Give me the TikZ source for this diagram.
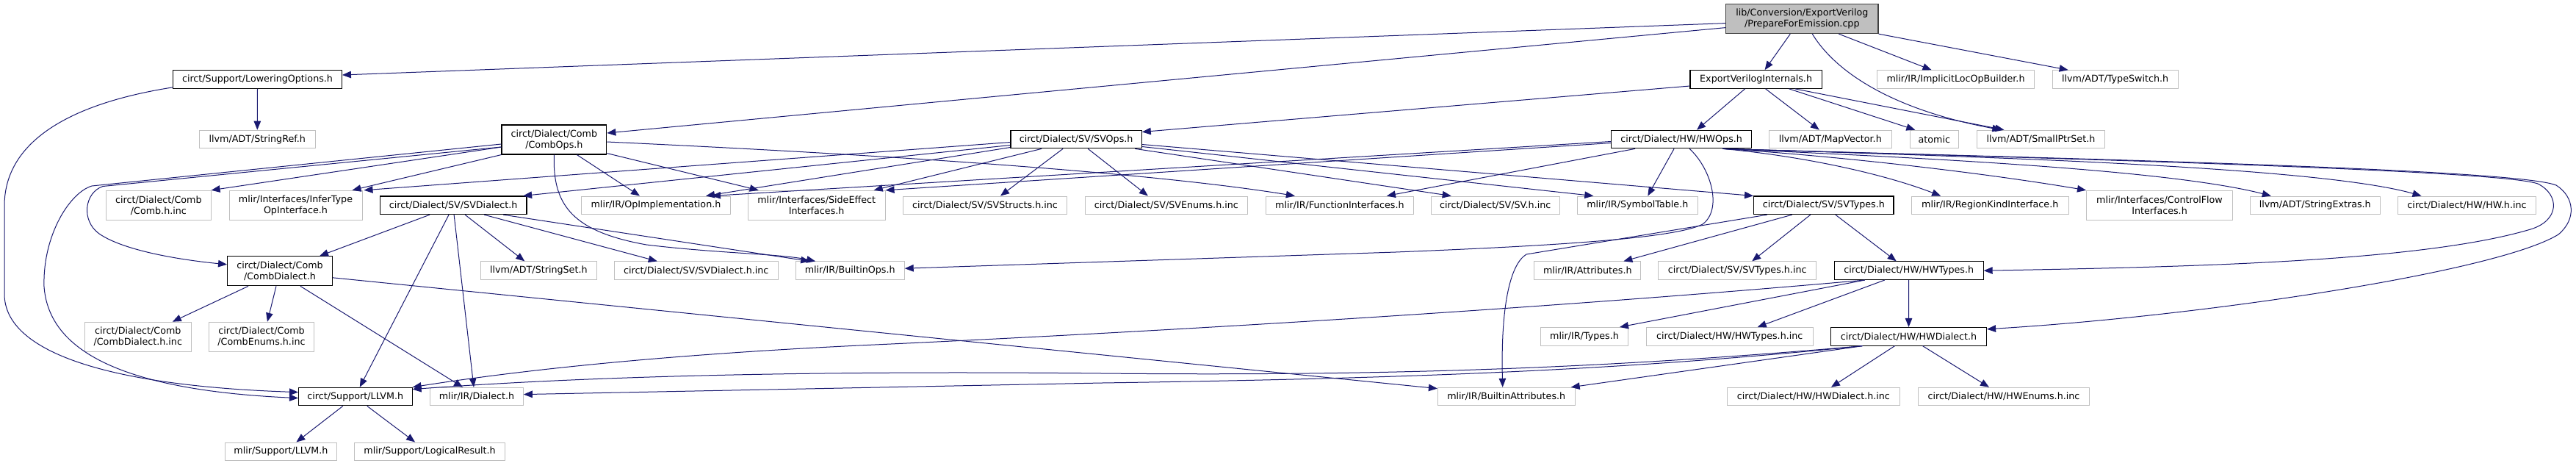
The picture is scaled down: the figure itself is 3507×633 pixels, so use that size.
\documentclass[tikz,border=0pt]{standalone}
\usepackage{fontspec}
\setmainfont{DejaVu Sans}
\usetikzlibrary{arrows.meta}

\definecolor{edgeblue}{HTML}{191970}
\definecolor{leafgray}{HTML}{BFBFBF}

\tikzset{
  boxbase/.style={rectangle, inner xsep=2pt, inner ysep=0pt, minimum height=24.6pt,
    font=\fontsize{12.7}{15}\selectfont, align=center},
  incbox/.style={boxbase, draw=black, line width=1.1pt},
  leafbox/.style={boxbase, draw=leafgray, line width=1pt},
  srcbox/.style={boxbase, draw=black!75, fill=leafgray, line width=1.1pt},
  twoline/.style={minimum height=40pt},
  incl/.style={draw=edgeblue, line width=1pt, -{Triangle[length=12pt, width=9.5pt]}},
}

\begin{document}
\begin{tikzpicture}[x=1pt, y=-1pt]
    \useasboundingbox (0,0) rectangle (3507,633);

    % Fichiers
    \node[srcbox, twoline, minimum width=207.4pt] (main) at (2453.3,25.6) {lib/Conversion/ExportVerilog\\/PrepareForEmission.cpp};

    \node[incbox, minimum width=229.7pt] (lowopt) at (350.5,108) {circt/Support/LoweringOptions.h};
    \node[incbox, minimum width=179.3pt] (evint) at (2390.6,108) {ExportVerilogInternals.h};
    \node[leafbox, minimum width=214.3pt] (implicitloc) at (2662.5,108) {mlir/IR/ImplicitLocOpBuilder.h};
    \node[leafbox, minimum width=170.8pt] (typeswitch) at (2879.6,108) {llvm/ADT/TypeSwitch.h};

    \node[leafbox, minimum width=157.4pt] (stringref) at (350.3,189.5) {llvm/ADT/StringRef.h};
    \node[incbox, twoline, minimum width=142.8pt] (combops) at (754.4,190) {circt/Dialect/Comb\\/CombOps.h};
    \node[incbox, minimum width=178.3pt] (svops) at (1465.1,189.5) {circt/Dialect/SV/SVOps.h};
    \node[incbox, minimum width=190.6pt] (hwops) at (2289.1,189.5) {circt/Dialect/HW/HWOps.h};
    \node[leafbox, minimum width=166.9pt] (mapvector) at (2491.8,189.5) {llvm/ADT/MapVector.h};
    \node[leafbox, minimum width=66.5pt] (atomic) at (2633.3,189.5) {atomic};
    \node[leafbox, minimum width=174.8pt] (smallptrset) at (2778.4,189.5) {llvm/ADT/SmallPtrSet.h};

    \node[leafbox, twoline, minimum width=142.4pt] (combinc) at (215.9,279.3) {circt/Dialect/Comb\\/Comb.h.inc};
    \node[leafbox, twoline, minimum width=181pt] (infertype) at (402.5,279.3) {mlir/Interfaces/InferType\\OpInterface.h};
    \node[incbox, minimum width=199.8pt] (svdialect) at (617.1,279.3) {circt/Dialect/SV/SVDialect.h};
    \node[leafbox, minimum width=202.4pt] (opimpl) at (893,279.3) {mlir/IR/OpImplementation.h};
    \node[leafbox, twoline, minimum width=186.7pt] (sideeffect) at (1111.7,279.3) {mlir/Interfaces/SideEffect\\Interfaces.h};
    \node[leafbox, minimum width=222.6pt] (svstructs) at (1341,279.3) {circt/Dialect/SV/SVStructs.h.inc};
    \node[leafbox, minimum width=221.4pt] (svenums) at (1587.9,279.3) {circt/Dialect/SV/SVEnums.h.inc};
    \node[leafbox, minimum width=201.5pt] (funcif) at (1823.9,279.3) {mlir/IR/FunctionInterfaces.h};
    \node[leafbox, minimum width=174.7pt] (svinc) at (2035.7,279.3) {circt/Dialect/SV/SV.h.inc};
    \node[leafbox, minimum width=164.1pt] (symtable) at (2229.3,279.3) {mlir/IR/SymbolTable.h};
    \node[incbox, minimum width=190.4pt] (svtypes) at (2482.8,279.3) {circt/Dialect/SV/SVTypes.h};
    \node[leafbox, minimum width=213.6pt] (regionkind) at (2709.2,279.3) {mlir/IR/RegionKindInterface.h};
    \node[leafbox, twoline, minimum width=199pt] (controlflow) at (2940,279.3) {mlir/Interfaces/ControlFlow\\Interfaces.h};
    \node[leafbox, minimum width=177.6pt] (strextras) at (3151.8,279.3) {llvm/ADT/StringExtras.h};
    \node[leafbox, minimum width=187.6pt] (hwinc) at (3358.5,279.3) {circt/Dialect/HW/HW.h.inc};

    \node[incbox, twoline, minimum width=142.8pt] (combdialect) at (381,368.8) {circt/Dialect/Comb\\/CombDialect.h};
    \node[leafbox, minimum width=157.4pt] (stringset) at (733.3,368.2) {llvm/ADT/StringSet.h};
    \node[leafbox, minimum width=222.5pt] (svdialectinc) at (947.8,368.2) {circt/Dialect/SV/SVDialect.h.inc};
    \node[leafbox, minimum width=148pt] (builtinops) at (1157.2,368.2) {mlir/IR/BuiltinOps.h};
    \node[leafbox, minimum width=145.1pt] (attributes) at (2161.3,368.2) {mlir/IR/Attributes.h};
    \node[leafbox, minimum width=214.5pt] (svtypesinc) at (2365.2,368.2) {circt/Dialect/SV/SVTypes.h.inc};
    \node[incbox, minimum width=202.8pt] (hwtypes) at (2598.7,368.2) {circt/Dialect/HW/HWTypes.h};

    \node[leafbox, twoline, minimum width=145.6pt] (combdialectinc) at (187.8,458.2) {circt/Dialect/Comb\\/CombDialect.h.inc};
    \node[leafbox, twoline, minimum width=142.7pt] (combenums) at (356,458.2) {circt/Dialect/Comb\\/CombEnums.h.inc};
    \node[leafbox, minimum width=118.7pt] (types) at (2157,457.8) {mlir/IR/Types.h};
    \node[leafbox, minimum width=226.7pt] (hwtypesinc) at (2354.7,457.8) {circt/Dialect/HW/HWTypes.h.inc};
    \node[incbox, minimum width=212pt] (hwdialect) at (2598.5,457.8) {circt/Dialect/HW/HWDialect.h};

    \node[incbox, minimum width=154.5pt] (supportllvm) at (483.8,539.6) {circt/Support/LLVM.h};
    \node[leafbox, minimum width=126.7pt] (dialect) at (649,539.6) {mlir/IR/Dialect.h};
    \node[leafbox, minimum width=186.6pt] (builtinattrs) at (2050.7,539.6) {mlir/IR/BuiltinAttributes.h};
    \node[leafbox, minimum width=234.6pt] (hwdialectinc) at (2468.9,539.6) {circt/Dialect/HW/HWDialect.h.inc};
    \node[leafbox, minimum width=232.9pt] (hwenums) at (2728,539.6) {circt/Dialect/HW/HWEnums.h.inc};

    \node[leafbox, minimum width=151.9pt] (mlirllvm) at (382.4,614.3) {mlir/Support/LLVM.h};
    \node[leafbox, minimum width=205.4pt] (logicalresult) at (585.1,614.3) {mlir/Support/LogicalResult.h};

    % Inclusions
    \draw[incl] ([yshift=-6pt]main.west) -- ([yshift=6pt]lowopt.east);
    \draw[incl] ([yshift=-12pt]main.west) -- ([yshift=9pt]combops.east);
    \draw[incl] ([xshift=-16pt]main.south) -- ([xshift=12pt]evint.north);
    \draw[incl] ([xshift=50pt]main.south) -- ([xshift=-33pt]implicitloc.north);
    \draw[incl] (main.south east) -- ([xshift=-64pt]typeswitch.north);
    \draw[incl] ([xshift=14pt]main.south) .. controls (2500,100) and (2580,150) .. ([xshift=-54pt]smallptrset.north);

    \draw[incl] ([yshift=-9pt]evint.west) -- ([yshift=10pt]svops.east);
    \draw[incl] ([xshift=-15pt]evint.south) -- ([xshift=21pt]hwops.north);
    \draw[incl] ([xshift=13pt]evint.south) -- ([xshift=-15pt]mapvector.north);
    \draw[incl] ([xshift=45pt]evint.south) -- ([xshift=-26pt]atomic.north);
    \draw[incl] ([xshift=53pt]evint.south) -- ([xshift=-50pt]smallptrset.north);

    \draw[incl] (lowopt.south) -- (stringref.north);
    \draw[incl] ([yshift=2pt]lowopt.south west) .. controls (100,140) and (6,190) .. (6,280) -- (6,400) .. controls (6,480) and (150,525) .. ([yshift=6pt]supportllvm.west);

    \draw[incl] ([yshift=-6pt]combops.west) -- (125,253) .. controls (95,262) and (58,320) .. (60,390) .. controls (66,470) and (150,530) .. ([yshift=-2pt]supportllvm.west);
    \draw[incl] ([yshift=-10pt]combops.west) -- (140,253.5) .. controls (115,262) and (110,300) .. (135,318) .. controls (170,342) and (250,354) .. ([yshift=9pt]combdialect.west);
    \draw[incl] ([yshift=-10pt]combops.west) -- (combinc.north east);
    \draw[incl] (combops.south west) -- ([xshift=77pt]infertype.north);
    \draw[incl] ([xshift=31pt]combops.south) -- ([xshift=-22pt]opimpl.north);
    \draw[incl] ([yshift=2pt]combops.south east) -- ([xshift=-79pt]sideeffect.north);
    \draw[incl] (combops.south) .. controls (752,280) and (780,315) .. (880,333) .. controls (980,345) and (1060,345) .. ([xshift=-47pt]builtinops.north);
    \draw[incl] ([yshift=-3pt]combops.east) .. controls (1300,215) and (1600,240) .. ([xshift=-61pt]funcif.north);

    \draw[incl] ([yshift=-4pt]svops.west) -- ([xshift=93pt]infertype.north);
    \draw[incl] ([yshift=-8pt]svops.west) -- ([xshift=95pt]svdialect.north);
    \draw[incl] ([yshift=-11pt]svops.west) -- ([xshift=68pt]opimpl.north);
    \draw[incl] ([xshift=-47pt]svops.south) -- ([xshift=78pt]sideeffect.north);
    \draw[incl] ([xshift=-18pt]svops.south) -- ([xshift=21pt]svstructs.north);
    \draw[incl] ([xshift=16pt]svops.south) -- ([xshift=-25pt]svenums.north);
    \draw[incl] ([xshift=80pt]svops.south) -- ([xshift=-60pt]svinc.north);
    \draw[incl] ([yshift=-10pt]svops.east) -- ([xshift=-60pt]symtable.north);
    \draw[incl] ([yshift=-7pt]svops.east) -- (svtypes.north west);

    \draw[incl] ([yshift=-3pt]hwops.west) -- ([xshift=76pt]opimpl.north);
    \draw[incl] ([yshift=-5pt]hwops.west) -- (sideeffect.north east);
    \draw[incl] ([xshift=-63pt]hwops.south) -- ([xshift=64pt]funcif.north);
    \draw[incl] ([xshift=-10pt]hwops.south) -- ([xshift=14pt]symtable.north);
    \draw[incl] ([xshift=11pt]hwops.south) .. controls (2330,230) and (2345,285) .. (2318,305) .. controls (2280,325) and (2100,335) .. (1900,343) -- ([yshift=3pt]builtinops.east);
    \draw[incl] ([xshift=56pt]hwops.south) .. controls (2450,212) and (2560,235) .. ([xshift=-67pt]regionkind.north);
    \draw[incl] ([xshift=56pt]hwops.south) .. controls (2500,212) and (2700,235) .. (controlflow.north west);
    \draw[incl] ([xshift=56pt]hwops.south) .. controls (2600,214) and (2950,230) .. ([xshift=-60pt]strextras.north);
    \draw[incl] ([xshift=56pt]hwops.south) .. controls (2650,212) and (3150,225) .. ([xshift=-62pt]hwinc.north);
    \draw[incl] ([xshift=56pt]hwops.south) .. controls (2700,213) and (3400,230) .. (3455,250) .. controls (3485,265) and (3485,300) .. (3445,312) .. controls (3300,355) and (3000,363) .. (hwtypes.east);
    \draw[incl] ([xshift=56pt]hwops.south) .. controls (2700,213) and (3420,228) .. (3480,252) .. controls (3505,268) and (3508,298) .. (3483,319) .. controls (3400,370) and (3000,430) .. ([yshift=10pt]hwdialect.east);

    \draw[incl] ([xshift=-77pt]svtypes.south) -- (2078,346) .. controls (2055,360) and (2043,420) .. ([xshift=-5pt]builtinattrs.north);
    \draw[incl] ([xshift=-43pt]svtypes.south) -- ([xshift=49pt]attributes.north);
    \draw[incl] ([xshift=-18pt]svtypes.south) -- ([xshift=20pt]svtypesinc.north);
    \draw[incl] ([xshift=16pt]svtypes.south) -- ([xshift=-17pt]hwtypes.north);

    \draw[incl] ([xshift=-32pt]svdialect.south) -- ([xshift=54pt]combdialect.north);
    \draw[incl] ([xshift=-6pt]svdialect.south) -- ([xshift=6pt]supportllvm.north);
    \draw[incl] ([xshift=1pt]svdialect.south) -- ([xshift=-4pt]dialect.north);
    \draw[incl] ([xshift=16pt]svdialect.south) -- ([xshift=-19pt]stringset.north);
    \draw[incl] ([xshift=42pt]svdialect.south) -- ([xshift=-53pt]svdialectinc.north);
    \draw[incl] ([xshift=68pt]svdialect.south) -- ([xshift=-55pt]builtinops.north);

    \draw[incl] ([xshift=-43pt]combdialect.south) -- ([xshift=47pt]combdialectinc.north);
    \draw[incl] ([xshift=-5pt]combdialect.south) -- ([xshift=8pt]combenums.north);
    \draw[incl] ([xshift=28pt]combdialect.south) -- ([xshift=-19pt]dialect.north);
    \draw[incl] ([yshift=-9pt]combdialect.east) -- ([yshift=11pt]builtinattrs.west);

    \draw[incl] ([xshift=-17pt]supportllvm.south) -- ([xshift=21pt]mlirllvm.north);
    \draw[incl] ([xshift=16pt]supportllvm.south) -- ([xshift=-20pt]logicalresult.north);

    \draw[incl] (hwtypes.south) -- (hwdialect.north);
    \draw[incl] ([xshift=-33pt]hwtypes.south) -- ([xshift=38pt]hwtypesinc.north);
    \draw[incl] ([xshift=-60pt]hwtypes.south) -- ([xshift=48pt]types.north);
    \draw[incl] ([xshift=-60pt]hwtypes.south) .. controls (2100,420) and (1600,450) .. (1200,468.6) .. controls (900,482) and (700,505) .. (supportllvm.north east);

    \draw[incl] ([xshift=-63pt]hwdialect.south) .. controls (2200,500) and (1900,512) .. (1500,508) .. controls (1100,504) and (800,512) .. ([yshift=10pt]supportllvm.east);
    \draw[incl] ([xshift=-63pt]hwdialect.south) .. controls (2200,505) and (1900,515) .. (1500,521) -- ([yshift=3pt]dialect.east);
    \draw[incl] ([xshift=-63pt]hwdialect.south) -- ([xshift=88pt]builtinattrs.north);
    \draw[incl] ([xshift=-19pt]hwdialect.south) -- ([xshift=24pt]hwdialectinc.north);
    \draw[incl] ([xshift=19pt]hwdialect.south) -- ([xshift=-20pt]hwenums.north);
\end{tikzpicture}
\end{document}
